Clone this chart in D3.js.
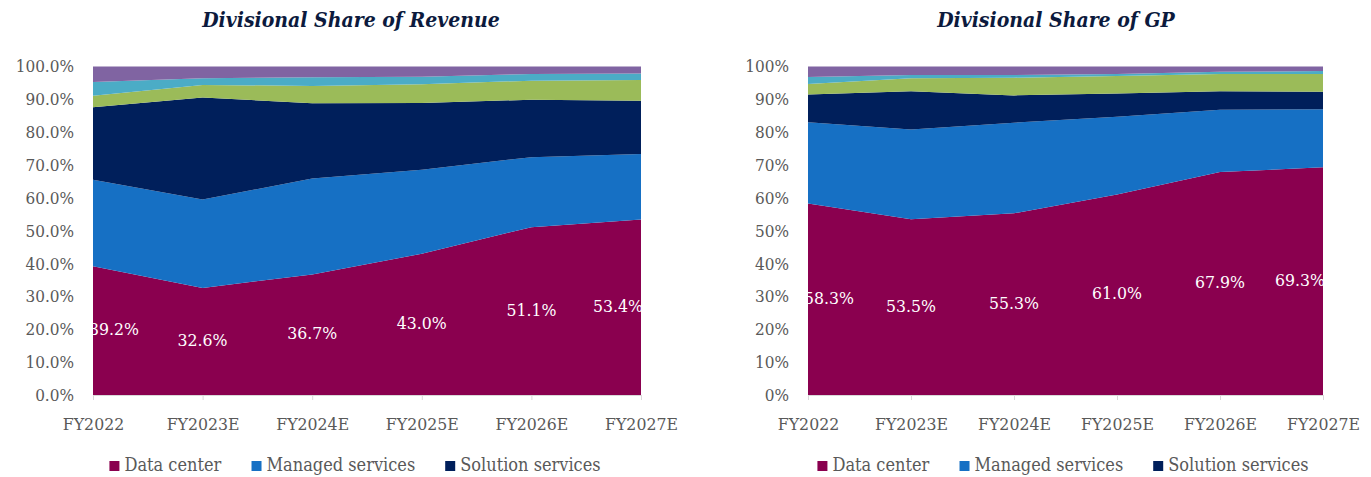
<!DOCTYPE html>
<html>
<head>
<meta charset="utf-8">
<script src="https://cdn.jsdelivr.net/npm/d3@7"></script>
<style>
  body { margin: 0; background: #fff; }
  svg text { font-family: "DejaVu Serif", "Liberation Serif", serif; font-stretch: condensed; }
</style>
</head>
<body>
<svg id="chart"></svg>
<script>
// categories and series (values in %)
const years = ['FY2022', 'FY2023E', 'FY2024E', 'FY2025E', 'FY2026E', 'FY2027E'];
const seriesNames = ['Data center', 'Managed services', 'Solution services', 'Other 1', 'Other 2', 'Other 3'];
const legendNames = ['Data center', 'Managed services', 'Solution services'];
const yTicks = [0, 10, 20, 30, 40, 50, 60, 70, 80, 90, 100];

// Divisional share of revenue
const revDataCenter = [39.2, 32.6, 36.7, 43.0, 51.1, 53.4];
const revManaged    = [26.3, 26.9, 29.2, 25.6, 21.3, 20.0];
const revSolution   = [22.1, 31.1, 22.9, 20.3, 17.5, 16.2];
const revOther1     = [3.5, 3.8, 5.3, 5.7, 5.8, 6.3];
const revOther2     = [4.2, 2.0, 2.6, 2.3, 2.0, 2.0];
const revOther3     = [4.7, 3.6, 3.3, 3.1, 2.3, 2.1];

// Divisional share of GP
const gpDataCenter = [58.3, 53.5, 55.3, 61.0, 67.9, 69.3];
const gpManaged    = [24.7, 27.3, 27.6, 23.7, 18.9, 17.7];
const gpSolution   = [8.5, 11.7, 8.3, 7.1, 5.7, 5.3];
const gpOther1     = [3.2, 3.9, 5.4, 5.3, 5.2, 5.4];
const gpOther2     = [2.1, 1.0, 0.8, 0.6, 0.7, 0.9];
const gpOther3     = [3.2, 2.6, 2.6, 2.3, 1.6, 1.4];

const colors = ['#8a004f', '#1670c4', '#001f5b', '#9bbb59', '#4bacc6', '#8064a2'];

class StackedAreaChart {

    constructor(_config, _series) {
        this.config = {
            svg: _config.svg,
            left: _config.left,
            top: _config.top,
            width: _config.width,
            height: _config.height,
            title: _config.title,
            titleX: _config.titleX,
            legendX: _config.legendX,
            tickFormat: _config.tickFormat
        };
        this.series = _series;
        this.initVis();
    }

    initVis() {
        let vis = this;
        const c = vis.config;

        vis.g = c.svg.append('g')
            .attr('transform', `translate(${c.left},${c.top})`);

        vis.xScale = d3.scalePoint()
            .domain(years)
            .range([0, c.width]);

        vis.yScale = d3.scaleLinear()
            .domain([0, 100])
            .range([c.height, 0]);

        vis.rows = years.map((y, i) => {
            const r = { year: y };
            seriesNames.forEach((s, k) => r[s] = vis.series[k][i]);
            return r;
        });

        vis.stack = d3.stack().keys(seriesNames);

        vis.area = d3.area()
            .x(d => vis.xScale(d.data.year))
            .y0(d => vis.yScale(d[0]))
            .y1(d => vis.yScale(d[1]));

        vis.marks = vis.g.append('g');
        vis.labels = vis.g.append('g');

        vis.xAxisG = vis.g.append('g')
            .attr('class', 'axis x-axis')
            .attr('transform', `translate(0,${c.height})`);

        vis.yAxisG = vis.g.append('g')
            .attr('class', 'axis y-axis');

        // title
        c.svg.append('text')
            .attr('x', c.titleX)
            .attr('y', 21)
            .attr('text-anchor', 'middle')
            .attr('dominant-baseline', 'middle')
            .style('font-size', '21px')
            .style('font-weight', 'bold')
            .style('font-style', 'italic')
            .style('fill', '#0c1a3d')
            .text(c.title);

        vis.renderVis();
    }

    renderVis() {
        let vis = this;
        const c = vis.config;

        const stacked = vis.stack(vis.rows);

        vis.marks.selectAll('.layer')
            .data(stacked)
            .join('path')
            .attr('class', 'layer')
            .attr('fill', (d, i) => colors[i])
            .attr('d', vis.area);

        // axes
        vis.xAxisG.call(d3.axisBottom(vis.xScale).tickSize(5).tickPadding(18));
        vis.xAxisG.select('.domain').attr('stroke', '#d9d9d9');
        vis.xAxisG.selectAll('.tick line').attr('stroke', '#d9d9d9');
        vis.xAxisG.selectAll('.tick text')
            .style('font-size', '17.5px')
            .attr('fill', '#595959')
            .attr('font-family', null);

        vis.yAxisG.call(d3.axisLeft(vis.yScale).tickValues(yTicks).tickFormat(c.tickFormat).tickSize(0).tickPadding(19));
        vis.yAxisG.select('.domain').remove();
        vis.yAxisG.selectAll('.tick text')
            .style('font-size', '17px')
            .attr('fill', '#595959')
            .attr('font-family', null);

        // data labels for the first series, kept inside the plot
        const first = stacked[0];
        vis.labels.selectAll('.dlabel')
            .data(first)
            .join('text')
            .attr('class', 'dlabel')
            .attr('text-anchor', 'middle')
            .attr('dominant-baseline', 'middle')
            .style('font-size', '17.5px')
            .attr('fill', '#ffffff')
            .text(d => d3.format('.1f')(d[1] - d[0]) + '%')
            .attr('y', d => vis.yScale((d[0] + d[1]) / 2))
            .attr('x', function(d) {
                const w = this.getComputedTextLength();
                const x = vis.xScale(d.data.year);
                return Math.max(w / 2 - 4, Math.min(c.width - w / 2 + 2, x));
            });

        // legend (only the three named divisions)
        const leg = c.svg.append('g').attr('transform', `translate(0,466)`);
        const items = leg.selectAll('g')
            .data(legendNames)
            .join('g');
        items.append('rect')
            .attr('width', 10).attr('height', 10)
            .attr('y', -5)
            .attr('fill', (d, i) => colors[i]);
        items.append('text')
            .attr('x', 15)
            .attr('dominant-baseline', 'middle')
            .style('font-size', '18px')
            .attr('fill', '#595959')
            .text(d => d);
        let widths = [];
        items.each(function() { widths.push(this.getBBox().width); });
        const gap = 30;
        const total = d3.sum(widths) + gap * (widths.length - 1);
        let x = c.legendX - total / 2;
        items.attr('transform', (d, i) => {
            const t = `translate(${x},0)`;
            x += widths[i] + gap;
            return t;
        });
    }
}

const svg = d3.select('#chart')
    .attr('width', 1371)
    .attr('height', 477);

new StackedAreaChart({
    svg: svg, left: 93, top: 66.5, width: 548, height: 328.5,
    title: 'Divisional Share of Revenue', titleX: 351, legendX: 355,
    tickFormat: d => d3.format('.1f')(d) + '%'
}, [revDataCenter, revManaged, revSolution, revOther1, revOther2, revOther3]);

new StackedAreaChart({
    svg: svg, left: 808, top: 66.5, width: 515, height: 328.5,
    title: 'Divisional Share of GP', titleX: 1056, legendX: 1063,
    tickFormat: d => d + '%'
}, [gpDataCenter, gpManaged, gpSolution, gpOther1, gpOther2, gpOther3]);
</script>
</body>
</html>
